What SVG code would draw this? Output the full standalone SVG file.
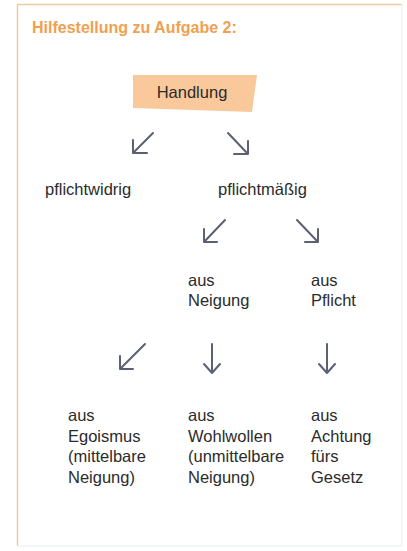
<svg xmlns="http://www.w3.org/2000/svg" width="407" height="551" viewBox="0 0 407 551">
<defs>
<style>
.t{font-family:"Liberation Sans",Arial,sans-serif;font-size:16.5px;fill:#2b2b2b}
.title{font-family:"Liberation Sans",Arial,sans-serif;font-size:16px;font-weight:bold;fill:#f0a050}
.a{fill:none;stroke:#5b6072;stroke-width:2;stroke-linecap:round;stroke-linejoin:round}
</style>
</defs>
<rect x="0" y="0" width="407" height="551" fill="#ffffff"/>
<path d="M402 4.5 H17.5 V546" fill="none" stroke="#efc9a4" stroke-width="1.5"/>
<path d="M402 4.5 V546 H17.5" fill="none" stroke="#eef6f6" stroke-width="1.5"/>
<text class="title" x="32" y="33">Hilfestellung zu Aufgabe 2:</text>
<g id="handlung">
<polygon points="133,75 257,75 252,112 133,108" fill="#f9c99c"/>
<text class="t" x="192" y="98" text-anchor="middle" font-size="15.5">Handlung</text>
</g>
<g id="connectors">
<path class="a" d="M153 133 L133 153 M133 140 L133 153 L147 153"/>
<path class="a" d="M228 133 L248 154 M248 141 L248 154 L234 154"/>
<path class="a" d="M225 220 L204 242 M204 229 L204 242 L217 242"/>
<path class="a" d="M297 220 L318 242 M318 229 L318 242 L305 242"/>
<path class="a" d="M145 344 L120 369 M120 356 L120 369 L133 369"/>
<path class="a" d="M212 344 L212 373 M204 364 L212 373 L220 364"/>
<path class="a" d="M327 344 L327 373 M319 364 L327 373 L335 364"/>
</g>
<g id="pflichtwidrig"><text class="t" x="45" y="195">pflichtwidrig</text></g>
<g id="pflichtmaessig"><text class="t" x="218" y="195">pflichtmäßig</text></g>
<g id="ausNeigung"><text class="t" x="188" y="286">aus</text><text class="t" x="188" y="306">Neigung</text></g>
<g id="ausPflicht"><text class="t" x="311" y="286">aus</text><text class="t" x="311" y="306">Pflicht</text></g>
<g id="ausEgoismus"><text class="t" x="68" y="421">aus</text><text class="t" x="68" y="441.5">Egoismus</text><text class="t" x="68" y="462">(mittelbare</text><text class="t" x="68" y="482.5">Neigung)</text></g>
<g id="ausWohlwollen"><text class="t" x="188" y="421">aus</text><text class="t" x="188" y="441.5">Wohlwollen</text><text class="t" x="188" y="462">(unmittelbare</text><text class="t" x="188" y="482.5">Neigung)</text></g>
<g id="ausAchtung"><text class="t" x="311" y="421">aus</text><text class="t" x="311" y="441.5">Achtung</text><text class="t" x="311" y="462">fürs</text><text class="t" x="311" y="482.5">Gesetz</text></g>
</svg>
